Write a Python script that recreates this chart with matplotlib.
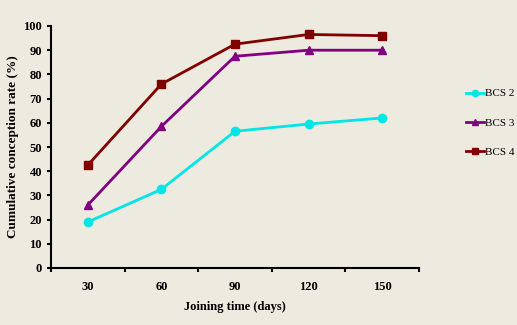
import matplotlib.pyplot as plt
import numpy as np

days = ["30", "60", "90", "120", "150"]
bcs2 = [19, 32.5, 56.5, 59.5, 62]
bcs3 = [26, 58.5, 87.5, 90, 90]
bcs4 = [42.5, 76, 92.5, 96.5, 96]

bg = "#EDEADF"
plt.rcParams["font.family"] = "Liberation Serif"

fig = plt.figure(figsize=(5.17, 3.25), dpi=100, facecolor=bg)
ax = fig.add_axes([51 / 517, 1 - 268 / 325, 368 / 517, 242 / 325])
ax.set_facecolor(bg)

x = np.arange(len(days))
ax.plot(x, bcs2, color="#00E6E6", marker="o", ms=6, lw=2, label="BCS 2")
ax.plot(x, bcs3, color="#800080", marker="^", ms=6, lw=2, label="BCS 3")
ax.plot(x, bcs4, color="#800000", marker="s", ms=6, lw=2, label="BCS 4")

ax.set_xlim(-0.5, len(days) - 0.5)
ax.set_ylim(0, 100)
ax.set_yticks(range(0, 101, 10))
ax.set_xticks(x)
ax.set_xticklabels(days, fontweight="bold", fontsize=9)
ax.set_xticks(np.arange(-0.5, len(days), 1), minor=True)
ax.tick_params(axis="x", which="major", length=0, pad=9)
ax.tick_params(axis="x", which="minor", length=3, width=1.5, direction="out")
ax.tick_params(axis="y", length=3, width=1.5, labelsize=9)
for lab in ax.get_yticklabels():
    lab.set_fontweight("bold")

for s in ["top", "right"]:
    ax.spines[s].set_visible(False)
for s in ["left", "bottom"]:
    ax.spines[s].set_linewidth(1.5)

ax.set_xlabel("Joining time (days)", fontweight="bold", fontsize=9, labelpad=6)
ax.set_ylabel("Cumulative conception rate (%)", fontweight="bold", fontsize=9.5,
              labelpad=3)

ax.legend(loc="center left", bbox_to_anchor=(1.1, 0.6), frameon=False,
          fontsize=8, handlelength=1.6, handletextpad=0.1, labelspacing=1.75,
          markerscale=0.75)

fig.savefig("out.png", dpi=100, facecolor=bg)
